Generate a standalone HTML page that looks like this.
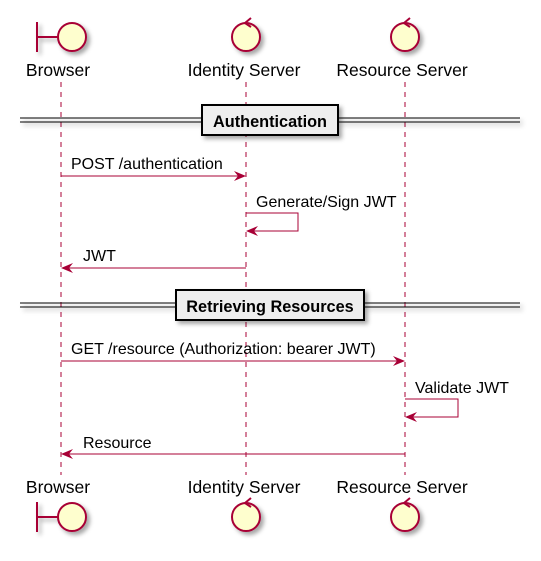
<!DOCTYPE html>
<html><head><meta charset="utf-8"><style>
html,body{margin:0;padding:0;background:#fff;}
svg{display:block;}
text{font-family:"Liberation Sans",sans-serif;fill:#000;}
</style></head><body>
<svg width="541" height="561" viewBox="0 0 541 561" xmlns="http://www.w3.org/2000/svg">
<defs>
<filter id="sh" x="-20%" y="-20%" width="150%" height="150%"><feDropShadow dx="3" dy="3" stdDeviation="2" flood-color="#000" flood-opacity="0.35"/></filter>
</defs>
<g stroke="#A80036" stroke-width="1" stroke-dasharray="5,5">
<line x1="61" y1="82" x2="61" y2="475"/>
<line x1="246" y1="82" x2="246" y2="475"/>
<line x1="405" y1="82" x2="405" y2="475"/>
</g>
<g stroke="#A80036" stroke-width="2" fill="#FEFECE" filter="url(#sh)">
<line x1="37" y1="22" x2="37" y2="52"/><line x1="37" y1="37" x2="58" y2="37"/><circle cx="72" cy="37" r="14"/>
<circle cx="246" cy="37" r="14"/>
<circle cx="405" cy="37" r="14"/>
</g>
<g stroke="#A80036" stroke-width="2" fill="none">
<polyline points="251,18 245,23 251,27"/>
<polyline points="410,18 404,23 410,27"/>
</g>
<text x="58" y="76" font-size="17.5" text-anchor="middle">Browser</text>
<text x="244" y="76" font-size="17.5" text-anchor="middle">Identity Server</text>
<text x="402" y="76" font-size="17.5" text-anchor="middle">Resource Server</text>
<text x="58" y="493" font-size="17.5" text-anchor="middle">Browser</text>
<text x="244" y="493" font-size="17.5" text-anchor="middle">Identity Server</text>
<text x="402" y="493" font-size="17.5" text-anchor="middle">Resource Server</text>
<g stroke="#A80036" stroke-width="2" fill="#FEFECE" filter="url(#sh)">
<line x1="37" y1="502" x2="37" y2="532"/><line x1="37" y1="517" x2="58" y2="517"/><circle cx="72" cy="517" r="14"/>
<circle cx="246" cy="517" r="14"/>
<circle cx="405" cy="517" r="14"/>
</g>
<g stroke="#A80036" stroke-width="2" fill="none">
<polyline points="251,498 245,503 251,507"/>
<polyline points="410,498 404,503 410,507"/>
</g>
<g filter="url(#sh)">
<line x1="20" y1="118" x2="520" y2="118" stroke="#000" stroke-width="1"/>
<line x1="20" y1="122" x2="520" y2="122" stroke="#000" stroke-width="1"/>
<rect x="202" y="105" width="136" height="30" fill="#EEEEEE" stroke="#000" stroke-width="2"/>
</g>
<text x="270" y="127" font-size="16.3" font-weight="bold" text-anchor="middle">Authentication</text>
<g filter="url(#sh)">
<line x1="20" y1="303" x2="520" y2="303" stroke="#000" stroke-width="1"/>
<line x1="20" y1="307" x2="520" y2="307" stroke="#000" stroke-width="1"/>
<rect x="176" y="290" width="188" height="30" fill="#EEEEEE" stroke="#000" stroke-width="2"/>
</g>
<text x="270" y="312" font-size="16.3" font-weight="bold" text-anchor="middle">Retrieving Resources</text>
<g stroke="#A80036" stroke-width="1" fill="none">
<line x1="61" y1="176" x2="244" y2="176"/>
<polyline points="246,213 298,213 298,231 248,231"/>
<line x1="63" y1="268" x2="246" y2="268"/>
<line x1="61" y1="361" x2="403" y2="361"/>
<polyline points="405,399 458,399 458,417 407,417"/>
<line x1="63" y1="454" x2="405" y2="454"/>
</g>
<g fill="#A80036">
<polygon points="246,176 234,171 238,176 234,181"/>
<polygon points="246,231 258,226 254,231 258,236"/>
<polygon points="61,268 73,263 69,268 73,273"/>
<polygon points="405,361 393,356 397,361 393,366"/>
<polygon points="405,417 417,412 413,417 417,422"/>
<polygon points="61,454 73,449 69,454 73,459"/>
</g>
<g font-size="16">
<text x="71" y="169">POST /authentication</text>
<text x="256" y="207">Generate/Sign JWT</text>
<text x="83" y="261">JWT</text>
<text x="71" y="354">GET /resource (Authorization: bearer JWT)</text>
<text x="415" y="393">Validate JWT</text>
<text x="83" y="448">Resource</text>
</g>
</svg>
</body></html>
